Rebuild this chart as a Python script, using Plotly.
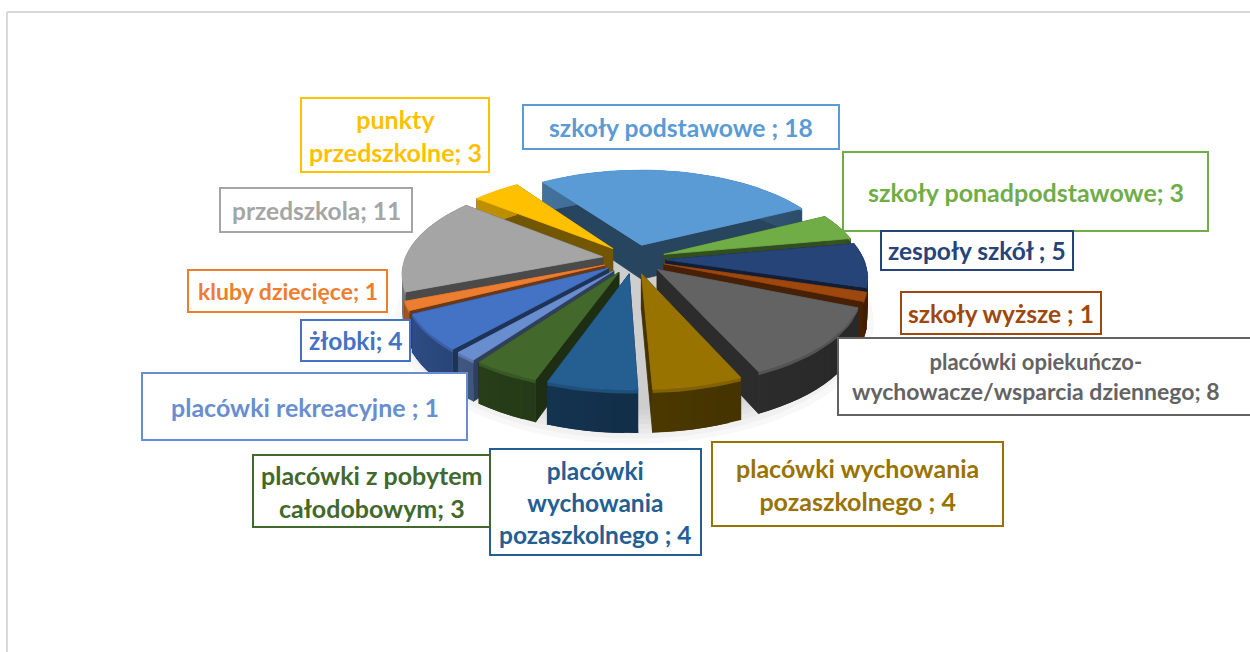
import math
import plotly.graph_objects as go

categories = ["szkoły podstawowe", "szkoły ponadpodstawowe", "zespoły szkół", "szkoły wyższe",
              "placówki opiekuńczo-wychowacze/wsparcia dziennego", "placówki wychowania pozaszkolnego (1)",
              "placówki wychowania pozaszkolnego (2)", "placówki z pobytem całodobowym",
              "placówki rekreacyjne", "żłobki", "kluby dziecięce", "przedszkola", "punkty przedszkolne"]
values = [18, 3, 5, 1, 8, 4, 4, 3, 1, 4, 1, 11, 3]
colors = ["#5B9BD5", "#70AD47", "#264478", "#9E480E", "#636363", "#997300", "#255E91",
          "#43682B", "#698ED0", "#4472C4", "#ED7D31", "#A5A5A5", "#FFC000"]
label_texts = ["szkoły podstawowe ; 18", "szkoły ponadpodstawowe; 3", "zespoły szkół ; 5", "szkoły wyższe ; 1",
               "<span style='font-size:22px'>placówki opiekuńczo-</span><br>wychowacze/wsparcia dziennego; 8",
               "placówki wychowania<br>pozaszkolnego ; 4", "placówki<br>wychowania<br>pozaszkolnego ; 4",
               "placówki z pobytem<br>całodobowym; 3", "placówki rekreacyjne ; 1", "żłobki; 4",
               "kluby dziecięce; 1", "przedszkola; 11", "punkty<br>przedszkolne; 3"]
label_boxes = [(523, 105, 839, 149), (843, 152, 1208, 231), (881, 231, 1073, 270), (901, 292, 1101, 334),
               (838, 338, 1262, 415), (712, 442, 1003, 526), (490, 449, 701, 555), (253, 455, 490, 527),
               (142, 373, 467, 440), (301, 320, 410, 361), (188, 270, 387, 312), (220, 188, 412, 232),
               (301, 98, 489, 172)]
label_centers = [None, None, None, None, 1036, None, None, None, None, None, None, None, None]
label_sizes = [24.7, 25, 24.5, 24.5, 23, 25, 24.5, 25, 25, 24.5, 23, 24.5, 25]

CX, CY, RX, RY, PERSP, EXPL, DEPTH, START = 634, 259, 198, 91.5, 0.164, 0.16, 35, -35


def project(u, v, z=0.0):
    s = 1 / (1 - PERSP * v)
    return CX + RX * u * s, CY + RY * v * s + z * s


def shade(hex_color, f):
    r, g, b = (int(hex_color[i:i + 2], 16) for i in (1, 3, 5))
    return f"rgb({int(r*f)},{int(g*f)},{int(b*f)})"


def poly(points, color, width=0.8):
    xs, ys = zip(*points)
    return go.Scatter(x=list(xs) + [xs[0]], y=list(ys) + [ys[0]], mode="lines", fill="toself",
                      fillcolor=color, line=dict(color=color, width=width), hoverinfo="skip", showlegend=False)


fig = go.Figure()

# soft shadow under the pie
for k in range(8):
    grow = 1.08 - k * 0.03
    pts = [project(grow * 1.1 * math.sin(math.radians(a)), grow * 1.1 * -math.cos(math.radians(a)), DEPTH + 5)
           for a in range(0, 360, 4)]
    fig.add_trace(poly(pts, "rgba(120,120,120,0.055)", 0))

total = sum(values)
slices = []
acc = START
for i, val in enumerate(values):
    span = 360 * val / total
    slices.append((i, acc, acc + span))
    acc += span


def unit(a):
    return math.sin(math.radians(a)), -math.cos(math.radians(a))


def depth_key(sl):
    return unit((sl[1] + sl[2]) / 2)[1]


for i, a0, a1 in sorted(slices, key=depth_key):
    mid = (a0 + a1) / 2
    ou, ov = unit(mid)
    ou *= EXPL
    ov *= EXPL
    col = colors[i]
    steps = max(3, int((a1 - a0) / 3))
    arc = [a0 + (a1 - a0) * k / steps for k in range(steps + 1)]
    rim = [(ou + unit(a)[0], ov + unit(a)[1]) for a in arc]
    apex = (ou, ov)
    # radial walls
    for corner in (rim[0], rim[-1]):
        fig.add_trace(poly([project(*apex), project(*corner), project(*corner, DEPTH), project(*apex, DEPTH)],
                           shade(col, 0.45)))
    # outer wall as shaded strips, each overlapping the next to hide seams
    for k in range(steps):
        am = (arc[k] + arc[k + 1]) / 2
        lit = 0.42 + 0.33 * (1 - math.cos(math.radians(am - 120))) / 2
        end = rim[min(k + 2, steps)]
        fig.add_trace(poly([project(*rim[k]), project(*end), project(*end, DEPTH), project(*rim[k], DEPTH)],
                           shade(col, lit), 0))
    # bevel along the top of the outer wall
    fig.add_trace(poly([project(*p) for p in rim] + [project(*p, 3) for p in reversed(rim)], shade(col, 0.85), 0))
    # top face
    fig.add_trace(poly([project(*apex)] + [project(*p) for p in rim], col))

for i, (x0, y0, x1, y1) in enumerate(label_boxes):
    fig.add_shape(type="rect", x0=x0, y0=y0, x1=x1, y1=y1, xref="x", yref="y", layer="above",
                  fillcolor="white", line=dict(color=colors[i], width=2))
    fig.add_annotation(x=label_centers[i] or (x0 + x1) / 2, y=(y0 + y1) / 2, text=label_texts[i], showarrow=False,
                       xref="x", yref="y", xanchor="center", yanchor="middle", align="center",
                       font=dict(family="Lato", size=label_sizes[i], color=colors[i], weight="bold"))

fig.add_shape(type="line", x0=7, y0=12, x1=7, y1=652, xref="x", yref="y", line=dict(color="#D9D9D9", width=2))
fig.add_shape(type="line", x0=7, y0=12, x1=1250, y1=12, xref="x", yref="y", line=dict(color="#D9D9D9", width=2))

fig.update_layout(width=1250, height=652, margin=dict(l=0, r=0, t=0, b=0), paper_bgcolor="white", plot_bgcolor="white",
                  xaxis=dict(range=[0, 1250], visible=False, fixedrange=True),
                  yaxis=dict(range=[652, 0], visible=False, fixedrange=True), showlegend=False, hovermode=False)
fig.write_html("out.html", config=dict(displayModeBar=False),
               post_script="document.body.style.margin='0';document.body.style.overflow='hidden';")
